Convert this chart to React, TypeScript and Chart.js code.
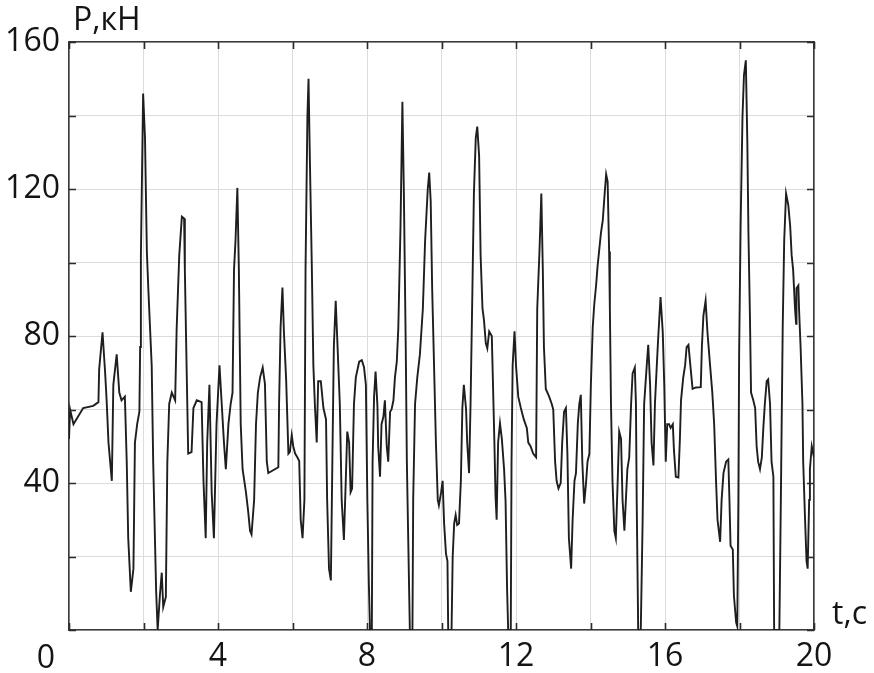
import React, { useEffect, useRef } from "react";
import { Chart, registerables } from "chart.js";

Chart.register(...registerables);

// time, s
const TIME_S: number[] = [
  0.0, 0.03, 0.12, 0.38, 0.65, 0.79, 0.81, 0.9, 0.97, 1.01, 1.06, 1.15, 1.19, 1.28, 1.35, 1.41, 1.5, 1.55, 1.59, 1.66,
  1.73, 1.77, 1.83, 1.89, 1.91, 1.93, 1.99, 2.04, 2.09, 2.13, 2.22, 2.26, 2.34, 2.38, 2.44, 2.49, 2.53, 2.6, 2.64, 2.69,
  2.76, 2.85, 2.89, 2.96, 3.03, 3.09, 3.11, 3.16, 3.2, 3.29, 3.34, 3.43, 3.56, 3.61, 3.67, 3.71, 3.77, 3.83, 3.89, 3.96,
  4.04, 4.1, 4.16, 4.21, 4.28, 4.34, 4.39, 4.43, 4.47, 4.52, 4.56, 4.61, 4.66, 4.75, 4.81, 4.86, 4.9, 4.97, 5.02, 5.07,
  5.13, 5.2, 5.26, 5.31, 5.35, 5.62, 5.64, 5.68, 5.73, 5.77, 5.83, 5.89, 5.93, 5.98, 6.02, 6.07, 6.13, 6.18, 6.22, 6.27,
  6.32, 6.35, 6.4, 6.43, 6.47, 6.52, 6.56, 6.6, 6.65, 6.69, 6.76, 6.83, 6.9, 6.93, 6.98, 7.03, 7.07, 7.11, 7.16, 7.21,
  7.27, 7.32, 7.38, 7.43, 7.47, 7.52, 7.56, 7.6, 7.65, 7.7, 7.79, 7.86, 7.92, 7.97, 8.01, 8.05, 8.08, 8.13, 8.15, 8.19,
  8.23, 8.28, 8.3, 8.35, 8.39, 8.44, 8.48, 8.53, 8.57, 8.62, 8.66, 8.71, 8.75, 8.8, 8.84, 8.87, 8.9, 8.95, 8.99, 9.04,
  9.07, 9.11, 9.15, 9.22, 9.24, 9.29, 9.35, 9.42, 9.5, 9.56, 9.63, 9.67, 9.71, 9.75, 9.8, 9.85, 9.9, 9.93, 9.99, 10.03,
  10.07, 10.12, 10.16, 10.18, 10.27, 10.3, 10.34, 10.38, 10.42, 10.47, 10.52, 10.56, 10.6, 10.66, 10.69, 10.74, 10.78,
  10.83, 10.87, 10.92, 10.96, 11.01, 11.05, 11.1, 11.14, 11.19, 11.23, 11.28, 11.35, 11.37, 11.42, 11.45, 11.48, 11.52,
  11.57, 11.62, 11.68, 11.72, 11.76, 11.79, 11.86, 11.88, 11.91, 11.96, 12.0, 12.06, 12.13, 12.21, 12.29, 12.33, 12.39,
  12.46, 12.54, 12.57, 12.63, 12.68, 12.72, 12.75, 12.8, 12.89, 12.96, 13.0, 13.05, 13.09, 13.14, 13.2, 13.24, 13.29,
  13.34, 13.38, 13.42, 13.48, 13.52, 13.57, 13.61, 13.66, 13.7, 13.74, 13.78, 13.83, 13.88, 13.92, 13.97, 14.01, 14.06,
  14.1, 14.15, 14.19, 14.24, 14.28, 14.33, 14.38, 14.42, 14.46, 14.5, 14.52, 14.55, 14.59, 14.64, 14.68, 14.73, 14.77,
  14.82, 14.86, 14.91, 14.95, 14.99, 15.04, 15.09, 15.13, 15.19, 15.22, 15.24, 15.27, 15.28, 15.35, 15.4, 15.44, 15.51,
  15.55, 15.6, 15.64, 15.69, 15.73, 15.78, 15.82, 15.88, 15.94, 15.98, 16.02, 16.06, 16.11, 16.15, 16.21, 16.24, 16.29,
  16.36, 16.4, 16.43, 16.49, 16.54, 16.58, 16.63, 16.69, 16.74, 16.83, 16.96, 16.99, 17.03, 17.09, 17.14, 17.21, 17.27,
  17.32, 17.37, 17.41, 17.48, 17.52, 17.57, 17.64, 17.7, 17.73, 17.76, 17.82, 17.85, 17.91, 17.94, 17.97, 17.99, 18.03,
  18.08, 18.12, 18.17, 18.21, 18.24, 18.28, 18.31, 18.37, 18.42, 18.46, 18.5, 18.55, 18.6, 18.64, 18.68, 18.73, 18.77,
  18.82, 18.86, 18.91, 18.93, 19.07, 19.11, 19.16, 19.2, 19.25, 19.31, 19.36, 19.4, 19.44, 19.49, 19.52, 19.53, 19.58,
  19.6, 19.64, 19.69, 19.71, 19.76, 19.8, 19.83, 19.87, 19.89, 19.94, 20.0,
];

// load, kN
const LOAD_KN: number[] = [
  52, 60, 56, 60.4, 61, 62, 71, 81, 70, 62.5, 51, 40.6, 66.7, 75, 64.6, 62.5, 63.5, 45.8, 25, 10.4,
  16.7, 51, 56, 59.4, 77, 102, 146, 134, 103, 92.7, 72, 45.8, 10.4, 0, 9.4, 15.6, 6.25, 9, 45.8, 61.5,
  64.6, 62.5, 82, 102, 112.5, 112, 98, 70, 48, 48.4, 60.4, 62.5, 62, 40.6, 25, 51, 66.7, 37.5, 25, 56,
  72, 61.5, 51, 43.75, 56, 61.5, 64.6, 98, 106, 120.3, 98, 56, 43.75, 37.5, 32.3, 27, 26, 35.4, 56, 64.6,
  68.75, 71.4, 67, 45.8, 42.7, 44.3, 61.5, 82.3, 93.2, 81, 68, 48, 48.5, 53, 50, 48, 47, 46, 30, 25,
  35.4, 98, 139.6, 150, 126, 98, 72, 61.5, 51, 67.7, 67.7, 60.4, 57.3, 35.4, 16.7, 13.5, 45.8, 77, 89.6, 77,
  61.5, 35.4, 24.5, 40.6, 54, 51, 37.5, 38.5, 61.5, 68.75, 73, 73.4, 71.5, 66.7, 35, 12.5, 0, 0, 45.8, 63.5,
  70.3, 61, 50, 41.7, 56, 58, 62.5, 50, 45.8, 59.4, 60, 62.5, 68.75, 73, 82, 96, 110, 143.75, 118.75, 77,
  45.8, 23, 0, 0, 35.4, 61.5, 68.75, 75, 87.5, 106, 119.8, 124.5, 116.7, 92.7, 72, 51, 35.4, 33.9, 37.5, 40.6,
  29, 20.8, 18.75, 0, 0, 19.8, 29, 31.25, 28.6, 29, 40.6, 60.4, 66.7, 60, 51, 42.7, 61.5,
  92.7, 118.75, 133.9, 137, 129, 102, 87.5, 84.4, 78, 76.6, 81.25, 80, 72, 51, 36.5, 30, 51,
  56.25, 52, 43.75, 35, 11.5, 0, 0, 45.8, 72, 81.25, 72, 63.5, 60.4, 57.3, 55, 51, 50,
  48, 47, 87.5, 103, 118.75, 98, 77, 65.6, 63.5, 61.5, 60, 45.8, 40.6, 38.5, 40, 51, 59.4,
  60.4, 48, 25, 16.7, 30, 40.6, 42.7, 56.25, 61.5, 64, 45.8, 34.4, 40, 45.8, 48, 66.7, 82.3,
  88.5, 93.75, 99, 104, 108, 111.5, 118.75, 124, 122, 103, 87.5, 61.5, 40.6, 27, 25, 40.6, 54,
  52, 35.4, 27, 35.4, 43.75, 47, 61.5, 69.8, 71.4, 61.5, 35.4, 9.4, 0, 0, 30, 61.5, 72,
  77.6, 66.7, 51, 44.8, 61.5, 72, 80, 90.6, 81, 66.7, 45.8, 56, 56, 55, 56, 49, 41.7,
  41.5, 52, 62.5, 68.75, 72, 77, 77.6, 71, 65.6, 66, 66.1, 77, 85.4, 89.6, 81, 72, 64.6,
  56, 40.6, 30, 24, 35.4, 42.7, 45.8, 46.4, 35.4, 22.9, 21.9, 9.4, 2, 1, 35.4, 75, 110,
  139.6, 151, 155, 133, 108, 85.4, 64.6, 62.5, 60.4, 50, 45.8, 43.75, 47, 55, 61.5, 67.7, 68.2,
  61.5, 45.8, 41.7, 0, 0, 35.4, 82.3, 106, 118.75, 115.6, 110, 102, 98, 87.5, 83.3, 93, 93.75,
  87, 77, 61.5, 45.8, 30, 18.75, 16.7, 35.4, 43.75, 50, 47,
];

const X_LABEL_VALUES: number[] = [4, 8, 12, 16, 20];
const Y_LABEL_VALUES: number[] = [40, 80, 120, 160];
const Y_TITLE = "P,кН";
const X_TITLE = "t,c";
const ORIGIN_LABEL = "0";

const FONT = "'Open Sans', 'Noto Sans', sans-serif";
const TEXT_COLOR = "#141414";

const innerTicks = {
  id: "innerTicks",
  afterDraw(chart: any) {
    const { ctx, chartArea } = chart;
    const xs = chart.scales.x;
    const ys = chart.scales.y;
    const len = 7;
    ctx.save();
    ctx.strokeStyle = "#2b2b2b";
    ctx.lineWidth = 1.6;
    ctx.beginPath();
    xs.ticks.forEach((t: any) => {
      const px = Math.round(xs.getPixelForValue(t.value)) + 0.5;
      ctx.moveTo(px, chartArea.bottom);
      ctx.lineTo(px, chartArea.bottom - len);
      ctx.moveTo(px, chartArea.top);
      ctx.lineTo(px, chartArea.top + len);
    });
    ys.ticks.forEach((t: any) => {
      const py = Math.round(ys.getPixelForValue(t.value)) + 0.5;
      ctx.moveTo(chartArea.left, py);
      ctx.lineTo(chartArea.left + len, py);
      ctx.moveTo(chartArea.right, py);
      ctx.lineTo(chartArea.right - len, py);
    });
    ctx.stroke();

    ctx.fillStyle = TEXT_COLOR;
    ctx.font = `32px ${FONT}`;
    ctx.textBaseline = "alphabetic";
    ctx.textAlign = "left";
    ctx.fillText(Y_TITLE, chartArea.left + 4, chartArea.top - 12);
    ctx.fillText(X_TITLE, chartArea.right + 18, chartArea.bottom - 6);
    ctx.textAlign = "center";
    ctx.fillText(ORIGIN_LABEL, xs.getPixelForValue(0) - 23, chartArea.bottom + 38);
    ctx.restore();
  },
};

export default function App() {
  const canvasRef = useRef<HTMLCanvasElement | null>(null);

  useEffect(() => {
    const canvas = canvasRef.current;
    if (!canvas) return;
    const points = TIME_S.map((t, i) => ({ x: t, y: LOAD_KN[i] }));
    const chart = new Chart(canvas, {
      type: "line",
      data: {
        datasets: [
          {
            data: points,
            borderColor: "#1e1e1e",
            borderWidth: 1.9,
            pointRadius: 0,
            tension: 0,
            fill: false,
          },
        ],
      },
      options: {
        responsive: false,
        animation: false,
        layout: { padding: { top: 42, right: 60, left: 0, bottom: 0 } },
        plugins: { legend: { display: false }, tooltip: { enabled: false } },
        scales: {
          x: {
            type: "linear",
            position: "bottom",
            min: 0,
            max: 20,
            ticks: {
              stepSize: 2,
              autoSkip: false,
              maxRotation: 0,
              padding: 8,
              color: TEXT_COLOR,
              font: { family: FONT, size: 32 },
              callback: (v: any) => (X_LABEL_VALUES.includes(Number(v)) ? String(v) : ""),
            },
            grid: { color: "#dcdcdc", lineWidth: 1, drawTicks: false, tickLength: 0 },
            border: { display: true, color: "#3a3a3a", width: 1.6 },
            afterFit: (s: any) => {
              s.height = 43;
            },
          },
          y: {
            type: "linear",
            position: "left",
            min: 0,
            max: 160,
            ticks: {
              stepSize: 20,
              padding: 9,
              color: TEXT_COLOR,
              font: { family: FONT, size: 32 },
              callback: (v: any) => (Y_LABEL_VALUES.includes(Number(v)) ? String(v) : ""),
            },
            grid: { color: "#dcdcdc", lineWidth: 1, drawTicks: false, tickLength: 0 },
            border: { display: true, color: "#3a3a3a", width: 1.6 },
            afterFit: (s: any) => {
              s.width = 69;
            },
          },
          xTop: {
            type: "linear",
            position: "top",
            min: 0,
            max: 20,
            ticks: { display: false },
            grid: { display: false, drawTicks: false },
            border: { display: true, color: "#3a3a3a", width: 1.6 },
            afterFit: (s: any) => {
              s.height = 0;
            },
          },
          yRight: {
            type: "linear",
            position: "right",
            min: 0,
            max: 160,
            ticks: { display: false },
            grid: { display: false, drawTicks: false },
            border: { display: true, color: "#3a3a3a", width: 1.6 },
            afterFit: (s: any) => {
              s.width = 0;
            },
          },
        },
      },
      plugins: [innerTicks],
    } as any);
    return () => chart.destroy();
  }, []);

  return (
    <div style={{ position: "absolute", left: 0, top: 0, width: 874, height: 673, background: "#fff" }}>
      <canvas ref={canvasRef} width={874} height={673} style={{ display: "block" }} />
    </div>
  );
}
